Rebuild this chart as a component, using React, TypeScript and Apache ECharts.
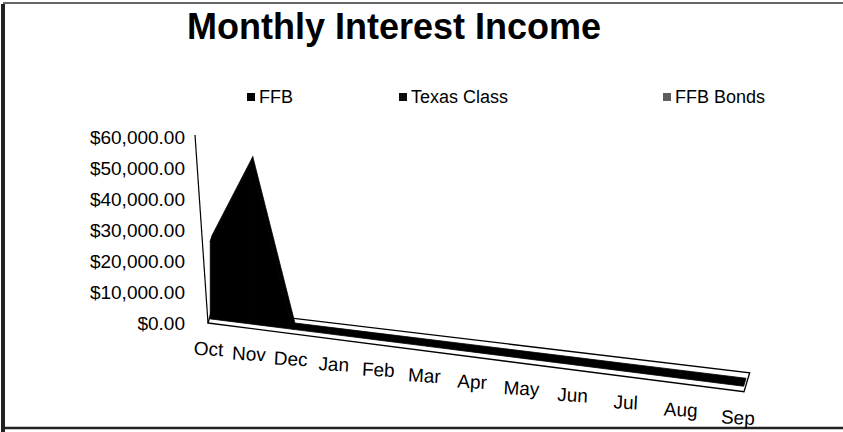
import React, { useEffect, useRef } from "react";
import * as echarts from "echarts";

// ---- data ----
const months = ["Oct", "Nov", "Dec", "Jan", "Feb", "Mar", "Apr", "May", "Jun", "Jul", "Aug", "Sep"];
const ffbValues = [25000, 52000, 0, 0, 0, 0, 0, 0, 0, 0, 0, 0];
const texasClassValues = [0, 0, 0, 0, 0, 0, 0, 0, 0, 0, 0, 0];
const ffbBondsValues = [0, 0, 0, 0, 0, 0, 0, 0, 0, 0, 0, 0];
const seriesNames = ["FFB", "Texas Class", "FFB Bonds"];
const yAxisMin = 0;
const yAxisMax = 60000;
const yAxisStep = 10000;

// ---- layout / style ----
const CHART_W = 843;
const CHART_H = 432;
const GRID_LEFT = 209;
const GRID_RIGHT = 101;
const GRID_TOP = 137;
const GRID_BOTTOM = 109;
const GRID_W = CHART_W - GRID_LEFT - GRID_RIGHT;
const PERSPECTIVE = 0.21;
const FLOOR_SLOPE = 0.129;
const DEPTH_DX = 0.3;
const SERIES_FRONT = 5.5;
const SERIES_BACK = 13.5;
const FLOOR_BACK = 19;
const FONT = "'Liberation Sans', Arial, sans-serif";
const seriesColors = ["#000000", "#0d0d0d", "#5e5e5e"];

function warp(u: number) {
  return u / (1 + PERSPECTIVE * (1 - u));
}

function project(api: any, cs: any, idx: number, v: number, depth: number) {
  const p = api.coord([idx, v]);
  const u = (p[0] - cs.x) / cs.width;
  const wu = warp(u);
  const x = cs.x + cs.width * wu;
  const y = p[1] + FLOOR_SLOPE * (x - cs.x);
  const d = depth * (0.75 + 0.25 * wu);
  return [x + DEPTH_DX * d, y - d];
}

const allValues = [ffbValues, texasClassValues, ffbBondsValues];
const bases: number[][] = allValues.map((_, k) =>
  months.map((__, i) => {
    let s = 0;
    for (let j = 0; j < k; j++) s += allValues[j][i];
    return s;
  })
);

function renderArea(k: number) {
  return (params: any, api: any) => {
    const i = params.dataIndex;
    if (i >= months.length - 1) return null;
    const cs = params.coordSys;
    const vals = allValues[k];
    const base = bases[k];
    const color = api.visual("color");
    const f0 = project(api, cs, i, base[i], SERIES_FRONT);
    const f1 = project(api, cs, i + 1, base[i + 1], SERIES_FRONT);
    const t0 = project(api, cs, i, base[i] + vals[i], SERIES_FRONT);
    const t1 = project(api, cs, i + 1, base[i + 1] + vals[i + 1], SERIES_FRONT);
    const b0 = project(api, cs, i, base[i] + vals[i], SERIES_BACK);
    const b1 = project(api, cs, i + 1, base[i + 1] + vals[i + 1], SERIES_BACK);
    const hasArea = vals[i] > 0 || vals[i + 1] > 0;
    const children: any[] = [];
    if (hasArea || k === 0) {
      children.push({
        type: "polygon",
        shape: { points: [t0, t1, b1, b0] },
        style: { fill: color, stroke: color, lineWidth: 0.8 },
      });
    }
    if (hasArea) {
      children.push({
        type: "polygon",
        shape: { points: [f0, f1, t1, t0] },
        style: { fill: color, stroke: color, lineWidth: 0.8 },
      });
    }
    return { type: "group", children };
  };
}

function renderFloor(params: any, api: any) {
  const cs = params.coordSys;
  const last = months.length - 1;
  const fl = project(api, cs, 0, 0, 0);
  const fr = project(api, cs, last, 0, 0);
  const bl = project(api, cs, 0, 0, FLOOR_BACK);
  const br = project(api, cs, last, 0, FLOOR_BACK);
  const top = api.coord([0, yAxisMax]);
  return {
    type: "group",
    children: [
      {
        type: "polygon",
        shape: { points: [[fl[0] - 1, fl[1]], [fr[0] + 2, fr[1]], [br[0] + 2, br[1]], [bl[0] - 1, bl[1]]] },
        style: { fill: "#ffffff", stroke: "#000000", lineWidth: 1.3 },
      },
      {
        type: "line",
        shape: { x1: top[0] - 14, y1: top[1] - 2, x2: fl[0] - 1, y2: fl[1] },
        style: { stroke: "#000000", lineWidth: 1.2 },
      },
    ],
  };
}

const labelRich: Record<string, any> = {};
months.forEach((_, idx) => {
  const u = idx / (months.length - 1);
  const wu = warp(u);
  const shift = GRID_W * (wu - u);
  labelRich["m" + idx] = {
    fontSize: 19,
    fontFamily: FONT,
    color: "#000",
    lineHeight: 20,
    padding: [2 * FLOOR_SLOPE * GRID_W * wu, Math.max(0, -2 * shift), 0, Math.max(0, 2 * shift)],
  };
});

export default function App() {
  const ref = useRef<HTMLDivElement>(null);
  useEffect(() => {
    if (!ref.current) return;
    const chart = echarts.init(ref.current, undefined, { renderer: "svg" });
    const option: any = {
      animation: false,
      backgroundColor: "#ffffff",
      title: {
        text: "Monthly Interest Income",
        left: 187,
        top: 8,
        padding: 0,
        textStyle: { fontSize: 36, fontWeight: "bold", fontFamily: FONT, color: "#000" },
      },
      legend: [
        { data: ["FFB"], left: 247, top: 88 },
        { data: ["Texas Class"], left: 399, top: 88 },
        { data: ["FFB Bonds"], left: 663, top: 88 },
      ].map((l) => ({
        ...l,
        padding: 0,
        itemWidth: 8,
        itemHeight: 8,
        itemGap: 4,
        icon: "rect",
        selectedMode: false,
        textStyle: { fontSize: 18, fontFamily: FONT, color: "#000", padding: [0, 0, 0, -1] },
      })),
      grid: { left: GRID_LEFT, right: GRID_RIGHT, top: GRID_TOP, bottom: GRID_BOTTOM, containLabel: false },
      xAxis: {
        type: "category",
        data: months,
        boundaryGap: false,
        axisLine: { show: false },
        axisTick: { show: false },
        splitLine: { show: false },
        axisLabel: {
          interval: 0,
          margin: 16,
          rotate: -3,
          align: "center",
          verticalAlign: "top",
          formatter: (v: string, idx: number) => `{m${idx}|${v}}`,
          rich: labelRich,
        },
      },
      yAxis: {
        type: "value",
        min: yAxisMin,
        max: yAxisMax,
        interval: yAxisStep,
        axisLine: { show: false },
        axisTick: { show: false },
        splitLine: { show: false },
        axisLabel: {
          margin: 24,
          fontSize: 19,
          fontFamily: FONT,
          color: "#000",
          formatter: (v: number) =>
            "$" + v.toLocaleString("en-US", { minimumFractionDigits: 2, maximumFractionDigits: 2 }),
        },
      },
      series: [
        {
          name: "floor",
          type: "custom",
          silent: true,
          z: 1,
          data: [[0, 0]],
          renderItem: renderFloor,
        },
        ...seriesNames.map((name, k) => ({
          name,
          type: "custom",
          z: 2 + k,
          itemStyle: { color: seriesColors[k] },
          data: allValues[k].map((v, i) => [i, v]),
          encode: { x: 0, y: 1 },
          renderItem: renderArea(k),
        })),
      ],
      graphic: [
        { type: "line", shape: { x1: 3, y1: 4, x2: 3, y2: 432 }, style: { stroke: "#222", lineWidth: 4 } },
        { type: "line", shape: { x1: 3, y1: 3, x2: 843, y2: 3 }, style: { stroke: "#333", lineWidth: 1.5 } },
        { type: "line", shape: { x1: 3, y1: 428, x2: 843, y2: 428 }, style: { stroke: "#222", lineWidth: 2.5 } },
      ],
    };
    chart.setOption(option);
    return () => chart.dispose();
  }, []);
  return (
    <div
      ref={ref}
      style={{ position: "fixed", left: 0, top: 0, width: CHART_W, height: CHART_H, background: "#fff" }}
    />
  );
}
